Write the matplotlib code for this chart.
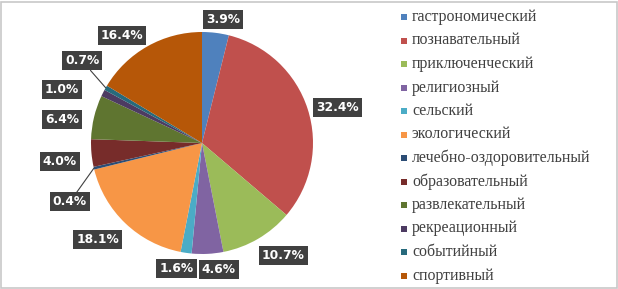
import matplotlib
matplotlib.use("Agg")
import matplotlib.pyplot as plt
from matplotlib.patches import Rectangle
import numpy as np

categories = ["гастрономический", "познавательный", "приключенческий", "религиозный",
              "сельский", "экологический", "лечебно-оздоровительный", "образовательный",
              "развлекательный", "рекреационный", "событийный", "спортивный"]
values = [3.9, 32.4, 10.7, 4.6, 1.6, 18.1, 0.4, 4.0, 6.4, 1.0, 0.7, 16.4]
colors = ["#4F81BD", "#C0504D", "#9BBB59", "#8064A2", "#4BACC6", "#F79646",
          "#2C4D75", "#772C2A", "#5F7530", "#4D3B62", "#276A7C", "#B65708"]
# label box centres, in units of pie radius relative to centre (layout only)
label_xy = [(0.19, 1.11), (1.22, 0.32), (0.73, -1.01), (0.15, -1.14), (-0.23, -1.13),
            (-0.94, -0.87), (-1.19, -0.53), (-1.28, -0.17), (-1.26, 0.21), (-1.26, 0.48),
            (-1.08, 0.74), (-0.72, 0.97)]
leaders = {6, 10}

W, H = 618, 289
fig = plt.figure(figsize=(W / 100, H / 100), dpi=100)
fig.patch.set_facecolor("white")

cx, cy, R = 202, 143, 111
ax = fig.add_axes([(cx - R) / W, (H - cy - R) / H, 2 * R / W, 2 * R / H])
wedges, _ = ax.pie(values, colors=colors, startangle=90, counterclock=False,
                   radius=1.0, wedgeprops=dict(linewidth=0))
ax.set_xlim(-1, 1)
ax.set_ylim(-1, 1)
ax.set_aspect("equal")
ax.axis("off")

bbox = dict(boxstyle="square,pad=0.25", facecolor="#404040", edgecolor="none")
fs = 8.8
for i, (w, v) in enumerate(zip(wedges, values)):
    tx, ty = label_xy[i]
    txt = f"{v:.1f}%"
    if i in leaders:
        ang = np.deg2rad((w.theta1 + w.theta2) / 2)
        ax.annotate(txt, xy=(np.cos(ang), np.sin(ang)), xytext=(tx, ty),
                    ha="center", va="center", color="white", fontsize=fs,
                    fontweight="bold", bbox=bbox, annotation_clip=False,
                    arrowprops=dict(arrowstyle="-", color="#404040", lw=0.8,
                                    shrinkA=0, shrinkB=0))
    else:
        ax.text(tx, ty, txt, ha="center", va="center", color="white",
                fontsize=fs, fontweight="bold", bbox=bbox, clip_on=False)

# legend
for i, (c, lab) in enumerate(zip(colors, categories)):
    y = 17 + i * 23.5
    fig.patches.append(Rectangle((401 / W, 1 - (y + 3) / H), 6 / W, 6 / H,
                                 transform=fig.transFigure, facecolor=c,
                                 edgecolor="none"))
    fig.text(412 / W, 1 - y / H, lab, ha="left", va="center",
             fontsize=11.4, family="Liberation Serif", color="#404040")

fig.patches.append(Rectangle((1.5 / W, 1.5 / H), (W - 3) / W, (H - 3) / H,
                             transform=fig.transFigure, facecolor="none",
                             edgecolor="#c8c8c8", linewidth=1.2))

fig.savefig("out.png", dpi=100)
